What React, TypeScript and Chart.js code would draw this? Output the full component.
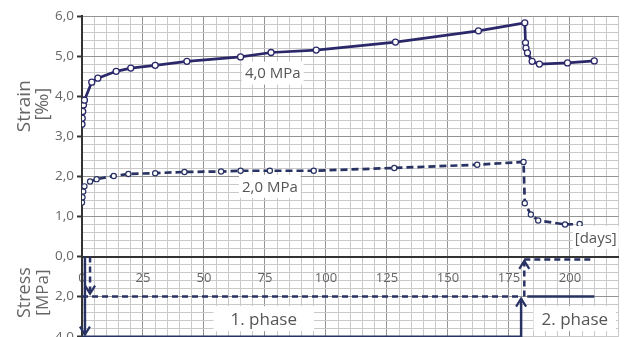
import React, { useEffect, useRef } from 'react';
import { Chart, registerables } from 'chart.js';
Chart.register(...registerables);

// Strain curve under 4,0 MPa
const days4 = [0, 0.1, 0.3, 0.6, 1, 4, 6.5, 14, 20, 30, 43, 65, 77.5, 96, 128.5, 162.5, 181.5, 181.8, 182, 182.6, 184.5, 187.5, 199, 210];
const strain4 = [3.3, 3.45, 3.62, 3.78, 3.9, 4.35, 4.45, 4.62, 4.7, 4.77, 4.87, 4.98, 5.09, 5.15, 5.35, 5.63, 5.83, 5.33, 5.2, 5.08, 4.87, 4.8, 4.83, 4.88];

// Strain curve under 2,0 MPa
const days2 = [0, 0.2, 0.5, 1, 3.3, 6, 13, 19, 30, 42, 57, 65, 77, 95, 128, 162, 181, 181.5, 184, 187, 198, 204];
const strain2 = [1.35, 1.48, 1.62, 1.75, 1.87, 1.93, 2.01, 2.06, 2.08, 2.11, 2.12, 2.14, 2.14, 2.14, 2.21, 2.29, 2.36, 1.33, 1.05, 0.9, 0.8, 0.81];

// Stress history (segments of [day, MPa])
const loadSolid = [
  [[1.2, 0], [1.2, 3.9]],
  [[0, 4], [180, 4], [180, 2.1]],
  [[182.5, 2], [210, 2]],
];
const loadDashed = [
  [[3.3, 0], [3.3, 1.85]],
  [[0, 2], [179.6, 2]],
  [[181.3, 2], [181.3, 0.22]],
  [[181.3, 0.15], [210, 0.15]],
];

// Arrow heads on the stress history
const arrowDays = [1.2, 3.3, 180, 181.3];
const arrowStress = [3.9, 1.85, 2.1, 0.22];
const arrowDir = ['down', 'down', 'up', 'up'];

// Text annotations
const noteTexts = ['4,0 MPa', '2,0 MPa', '[days]', '1. phase', '2. phase'];
const noteDays = [78.2, 77, 202, 74.5, 202];
const noteVals = [4.575, 1.75, 0.475, 3.1, 3.1];
const noteAxis = ['y', 'y', 'y', 'y2', 'y2'];
const noteAlign = ['center', 'center', 'left', 'center', 'center'];
const noteSize = [15, 15, 15, 17, 17];
const notePadX = [3, 3, 2, 17, 8];

const strainTicksMajor = [1, 2, 3, 4, 5, 6];
const stressTicksMajor = [0, 2, 4];
const dayTicksMajor = [0, 25, 50, 75, 100, 125, 150, 175, 200];

const NAVY = '#2b286a';
const NAVY2 = '#283263';
const MINOR = '#c9c9c9';
const MAJOR = '#939393';
const AXIS = '#333333';
const TEXT = '#666666';
const FONT = '"Open Sans", "Noto Sans", sans-serif';

const near = (v: number, list: number[]) => list.some((m) => Math.abs(v - m) < 1e-6);
const fmt = (v: number) => v.toFixed(1).replace('.', ',');

export default function App() {
  const ref = useRef<HTMLCanvasElement>(null);

  useEffect(() => {
    document.body.style.margin = '0';
    document.body.style.overflow = 'hidden';
    const canvas = ref.current!;
    const pts = (xs: number[], ys: number[]) => xs.map((x, i) => ({ x, y: ys[i] }));
    const segs = (list: number[][][]) => {
      const out: any[] = [];
      list.forEach((s, i) => {
        if (i > 0) out.push({ x: s[0][0], y: null });
        s.forEach((p) => out.push({ x: p[0], y: p[1] }));
      });
      return out;
    };

    const notePlugin = {
      id: 'notes',
      afterDatasetsDraw(chart: any) {
        const { ctx, scales } = chart;
        ctx.save();
        ctx.strokeStyle = NAVY2;
        ctx.lineWidth = 2.2;
        ctx.setLineDash([]);
        arrowDays.forEach((d, i) => {
          const px = scales.x.getPixelForValue(d);
          const py = scales.y2.getPixelForValue(arrowStress[i]);
          const s = arrowDir[i] === 'down' ? -1 : 1;
          ctx.beginPath();
          ctx.moveTo(px - 5, py + s * 8);
          ctx.lineTo(px, py);
          ctx.lineTo(px + 5, py + s * 8);
          ctx.stroke();
        });
        ctx.textBaseline = 'middle';
        noteTexts.forEach((t, i) => {
          const ys = scales[noteAxis[i]];
          const px = scales.x.getPixelForValue(noteDays[i]);
          const py = ys.getPixelForValue(noteVals[i]);
          ctx.font = `${noteSize[i]}px ${FONT}`;
          const w = ctx.measureText(t).width;
          const left = noteAlign[i] === 'center' ? px - w / 2 : px;
          const h = noteSize[i] + 8;
          ctx.fillStyle = '#ffffff';
          ctx.fillRect(left - notePadX[i], py - h / 2, w + notePadX[i] * 2, h);
          ctx.fillStyle = '#555555';
          ctx.textAlign = 'left';
          ctx.fillText(t, left, py + 1);
        });
        ctx.restore();
      },
      afterDraw(chart: any) {
        const { ctx, scales } = chart;
        ctx.save();
        ctx.fillStyle = TEXT;
        ctx.textAlign = 'center';
        ctx.textBaseline = 'middle';
        const drawRot = (text: string, x: number, y: number, size: number) => {
          ctx.save();
          ctx.translate(x, y);
          ctx.rotate(-Math.PI / 2);
          ctx.font = `${size}px ${FONT}`;
          ctx.fillText(text, 0, 0);
          ctx.restore();
        };
        const sy = scales.y.getPixelForValue(3.75);
        drawRot('Strain', 25, sy, 19);
        drawRot('[‰]', 43, sy - 2, 18);
        const ty = scales.y2.getPixelForValue(1.8);
        drawRot('Stress', 25, ty, 18);
        drawRot('[MPa]', 43, ty, 17);
        ctx.restore();
      },
    };

    const fitY = (scale: any) => {
      scale.width = 82;
      scale.paddingTop = 0;
      scale.paddingBottom = 0;
    };

    const chart = new Chart(canvas, {
      type: 'line',
      data: {
        datasets: [
          {
            label: '4,0 MPa',
            data: pts(days4, strain4),
            yAxisID: 'y',
            borderColor: NAVY,
            borderWidth: 2.7,
            pointRadius: 3,
            pointBorderWidth: 1.3,
            pointBackgroundColor: '#ffffff',
            pointBorderColor: NAVY,
          },
          {
            label: '2,0 MPa',
            data: pts(days2, strain2),
            yAxisID: 'y',
            borderColor: NAVY2,
            borderWidth: 2.7,
            borderDash: [7, 4],
            pointRadius: 2.6,
            pointBorderWidth: 1.2,
            pointBackgroundColor: '#ffffff',
            pointBorderColor: NAVY2,
          },
          {
            label: 'load 4',
            data: segs(loadSolid),
            yAxisID: 'y2',
            borderColor: NAVY2,
            borderWidth: 2.5,
            pointRadius: 0,
            spanGaps: false,
            clip: 4,
          },
          {
            label: 'load 2',
            data: segs(loadDashed),
            yAxisID: 'y2',
            borderColor: NAVY2,
            borderWidth: 2.5,
            borderDash: [6, 4],
            pointRadius: 0,
            spanGaps: false,
            clip: 4,
          },
        ] as any,
      },
      options: {
        responsive: false,
        animation: false,
        events: [],
        layout: { padding: { top: 16, right: 2, bottom: 1, left: 0 } },
        plugins: { legend: { display: false }, tooltip: { enabled: false } },
        scales: {
          x: {
            type: 'linear',
            min: 0,
            max: 220,
            position: { y: 0 } as any,
            afterFit: (s: any) => { s.paddingLeft = 0; s.paddingRight = 0; },
            grid: {
              color: (c: any) => (c.tick && c.tick.value === 0 ? AXIS : near(c.tick?.value ?? -1, dayTicksMajor) ? MAJOR : MINOR),
              lineWidth: 1,
              drawTicks: false,
            },
            border: { color: AXIS, width: 2 },
            ticks: {
              stepSize: 5,
              autoSkip: false,
              maxRotation: 0,
              padding: 14,
              color: TEXT,
              font: { size: 13, family: FONT },
              callback: (v: any) => (near(Number(v), dayTicksMajor) ? String(v) : ''),
            },
          },
          y2: {
            type: 'linear',
            position: 'left',
            stack: 'panels',
            stackWeight: 1,
            min: 0,
            max: 4,
            reverse: true,
            afterFit: fitY,
            grid: {
              color: (c: any) => (c.tick && Math.abs(c.tick.value) < 1e-6 ? AXIS : near(c.tick?.value ?? -1, [2]) ? MAJOR : MINOR),
              tickColor: (c: any) => (near(c.tick?.value ?? -1, stressTicksMajor) ? AXIS : 'rgba(0,0,0,0)'),
              tickLength: 5,
              tickWidth: 2,
            },
            border: { color: AXIS, width: 2 },
            ticks: {
              stepSize: 0.4,
              autoSkip: false,
              padding: 3,
              color: TEXT,
              font: { size: 13.5, family: FONT },
              callback: (v: any) => (near(Number(v), stressTicksMajor) ? fmt(Number(v)) : ''),
            },
          },
          y: {
            type: 'linear',
            position: 'left',
            stack: 'panels',
            stackWeight: 3,
            min: 0,
            max: 6,
            afterFit: fitY,
            grid: {
              color: (c: any) => (c.tick && Math.abs(c.tick.value) < 1e-6 ? AXIS : near(c.tick?.value ?? -1, strainTicksMajor) ? MAJOR : MINOR),
              tickColor: (c: any) => (near(c.tick?.value ?? -1, strainTicksMajor) ? AXIS : 'rgba(0,0,0,0)'),
              tickLength: 5,
              tickWidth: 2,
            },
            border: { color: AXIS, width: 2 },
            ticks: {
              stepSize: 0.2,
              autoSkip: false,
              padding: 3,
              color: TEXT,
              font: { size: 13.5, family: FONT },
              callback: (v: any) => (near(Number(v), strainTicksMajor) ? fmt(Number(v)) : ''),
            },
          },
        },
      } as any,
      plugins: [notePlugin],
    });
    return () => chart.destroy();
  }, []);

  return (
    <div style={{ width: 624, height: 337, overflow: 'hidden' }}>
      <canvas ref={ref} width={624} height={342} style={{ display: 'block' }} />
    </div>
  );
}
